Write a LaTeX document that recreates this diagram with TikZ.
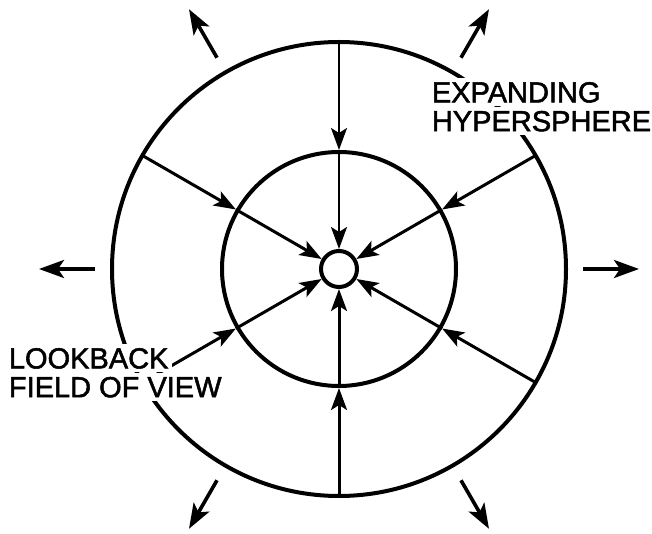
\documentclass[tikz,border=0pt]{standalone}
\usepackage{fontspec}
\setmainfont{Liberation Sans}
\usepackage{tikz}
\usetikzlibrary{arrows.meta, positioning}

\begin{document}
\begin{tikzpicture}[x=0.5pt, y=0.5pt,
    inarrow/.style={line width=1.5pt, -{Stealth[length=11pt, width=8pt, inset=2.5pt]}},
    outarrow/.style={line width=1.8pt, -{Stealth[length=12.5pt, width=9pt, inset=3pt]}},
    caption/.style={fill=white, inner sep=1.75pt, text height=10.5pt, text depth=0pt,
        font=\fontsize{14.5pt}{14pt}\selectfont\addfontfeature{FakeBold=1.8}}]
    \useasboundingbox (-339,-265) rectangle (313,269);

    % 1. Three circles
    \draw[line width=2pt] (0,0) circle (227);
    \draw[line width=2pt] (0,0) circle (117);
    \node[draw, circle, line width=2pt, minimum size=18pt, inner sep=0pt] (hub) at (0,0) {};

    % 2. Lines of sight falling inwards
    \foreach \a/\w in {30/1.5, 90/1, 150/1.5, 210/1.5, 270/1.5, 330/1.5} {
        \coordinate (o\a) at (\a:227);
        \coordinate (i\a) at (\a:119);
        \draw[inarrow, line width=\w pt] (o\a) -- (i\a);
        \draw[inarrow, line width=\w pt] (i\a) -- (hub);
    }

    % 3. Expansion arrows outside
    \foreach \a in {0,60,...,300} {
        \coordinate (t\a) at (\a:244);
        \coordinate (h\a) at (\a:300);
        \draw[outarrow] (t\a) -- (h\a);
    }

    % 4. Labels
    \node[caption, anchor=north west] (exp) at (89,191.5) {EXPANDING};
    \node[caption, below right=0pt and 0pt of exp.south west] (hyp) {HYPERSPHERE};

    \node[caption, anchor=north west] (look) at (-334,-74.5) {LOOKBACK};
    \node[caption, below right=0pt and 0pt of look.south west] (fov) {FIELD OF VIEW};
\end{tikzpicture}
\end{document}
